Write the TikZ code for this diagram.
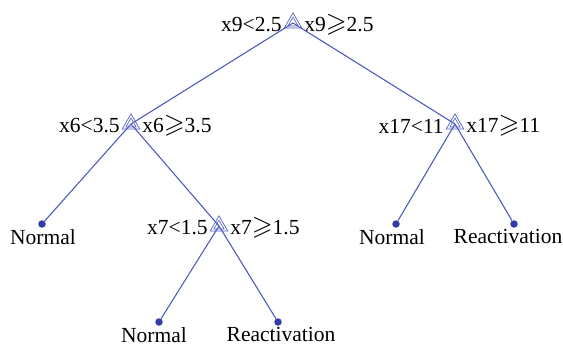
\documentclass[tikz,border=0pt]{standalone}
\usepackage{fontspec}
\usepackage{amssymb}
\setmainfont{Liberation Serif}
\usetikzlibrary{shapes.geometric}
\definecolor{treeblue}{RGB}{80,92,190}
\definecolor{dotblue}{RGB}{50,62,165}
\newcommand{\gesl}{\scalebox{1.25}{$\geqslant$}}
\begin{document}
\begin{tikzpicture}[x=1pt,y=-1pt,font=\fontsize{21.5}{25}\selectfont,
  split/.style={regular polygon,regular polygon sides=3,draw=treeblue,double=white,double distance=1.2pt,line width=0.8pt,minimum size=16pt,inner sep=0pt},
  lt/.style={label={[yshift=-2pt,xshift=-5pt]left:#1}},
  ge/.style={label={[yshift=-2pt,xshift=5pt]right:#1}},
  leaf/.style={circle,fill=dotblue,inner sep=0pt,minimum size=7.5pt,label distance=-1pt},
  every label/.style={inner sep=1pt},
  branch/.style={draw=treeblue,line width=1.1pt}]
\useasboundingbox (0,0) rectangle (563,346);
\node[split,lt=x9<2.5,ge=x9\gesl2.5] (X9) at (293,23) {};
\node[split,lt=x6<3.5,ge=x6\gesl3.5] (X6) at (131,124) {};
\node[split,lt=x17<11,ge=x17\gesl11] (X17) at (455,124) {};
\node[split,lt=x7<1.5,ge=x7\gesl1.5] (X7) at (219,226) {};
\node[leaf,label={[xshift=1pt]below:Normal}] (N1) at (42,224) {};
\node[leaf,label={[xshift=-5pt]below:Normal}] (N2) at (159,322) {};
\node[leaf,label={[xshift=3pt]below:Reactivation}] (R1) at (278,322) {};
\node[leaf,label={[xshift=-4pt]below:Normal}] (N3) at (396,224) {};
\node[leaf,label={[xshift=-6pt]below:Reactivation}] (R2) at (514,224) {};
\draw[branch] (X9.center) -- (X6.center);
\draw[branch] (X9.center) -- (X17.center);
\draw[branch] (X6.center) -- (N1);
\draw[branch] (X6.center) -- (X7.center);
\draw[branch] (X7.center) -- (N2);
\draw[branch] (X7.center) -- (R1);
\draw[branch] (X17.center) -- (N3);
\draw[branch] (X17.center) -- (R2);
\end{tikzpicture}
\end{document}
